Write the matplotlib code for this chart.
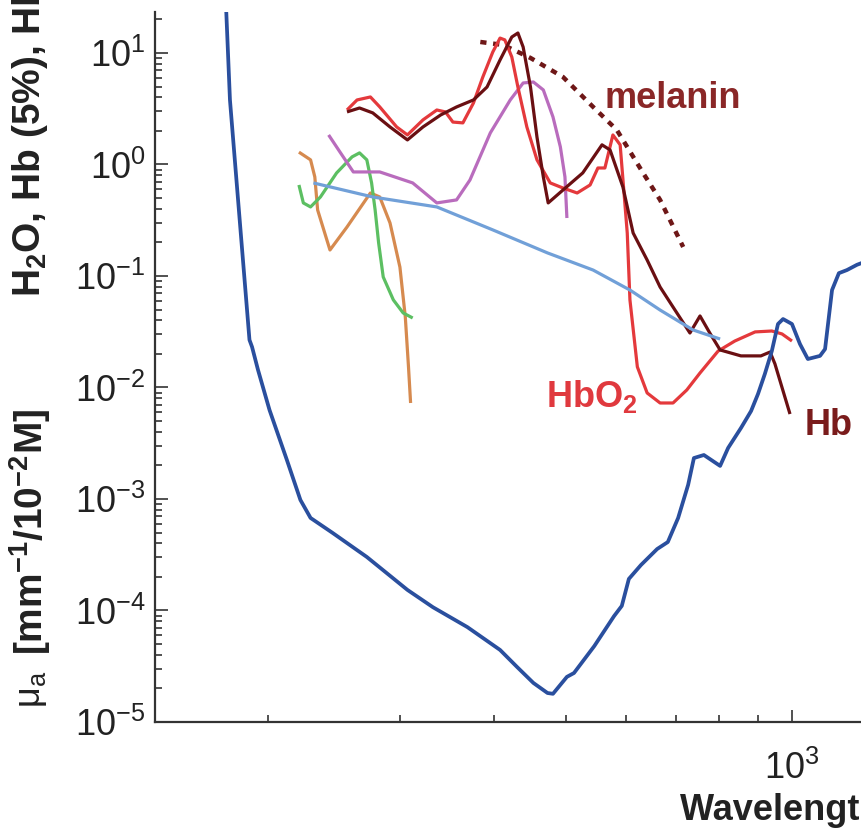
import matplotlib
matplotlib.use("Agg")
import matplotlib.pyplot as plt
from matplotlib.ticker import FixedLocator, NullFormatter

plt.rcParams['font.family'] = ['Liberation Sans', 'DejaVu Sans']
plt.rcParams['mathtext.fontset'] = 'custom'
plt.rcParams['mathtext.rm'] = 'Liberation Sans'
plt.rcParams['mathtext.default'] = 'regular'

# wavelength (nm) and absorption values
water_nm = [175, 176, 178, 184, 189, 190.5, 194, 201, 212, 221, 228, 244, 271, 307, 332,
            369, 408, 430, 452, 472, 480, 501, 512, 545, 579, 593, 606, 629, 661, 683,
            705, 727, 740, 763, 802, 822, 855, 882, 901, 920, 940, 958, 973, 1000, 1025,
            1050, 1090, 1107, 1131, 1155, 1184, 1221, 1240]
water_mua = [33, 23.3, 3.79, 0.243, 0.0267, 0.0231, 0.0144, 0.00628, 0.00224, 0.00098,
             0.000676, 0.000496, 0.000302, 0.000153, 0.000107, 7.1e-5, 4.43e-5, 3.11e-5,
             2.24e-5, 1.82e-5, 1.79e-5, 2.54e-5, 2.75e-5, 4.8e-5, 8.9e-5, 1.1e-4, 1.92e-4,
             2.56e-4, 3.56e-4, 4.11e-4, 6.76e-4, 1.34e-3, 2.33e-3, 2.48e-3, 1.98e-3,
             2.87e-3, 4.33e-3, 6.15e-3, 8.75e-3, 0.0132, 0.0212, 0.0371, 0.0411, 0.0371,
             0.0245, 0.018, 0.0192, 0.0221, 0.0748, 0.106, 0.113, 0.126, 0.131]

fat_nm = [230, 276, 336, 399, 472, 543, 608, 667, 738, 802]
fat_mua = [0.683, 0.511, 0.416, 0.259, 0.161, 0.113, 0.0748, 0.0495, 0.0328, 0.0272]

orange_nm = [220, 228, 231, 233, 242, 255, 274, 282, 291, 300, 305, 308, 310]
orange_mua = [1.29, 1.10, 0.773, 0.391, 0.171, 0.275, 0.555, 0.511, 0.299, 0.12,
              0.0428, 0.0153, 0.00726]

green_nm = [220, 223, 228, 235, 247, 259, 265, 271, 275, 278, 281, 285, 294, 303, 312]
green_mua = [0.655, 0.452, 0.416, 0.511, 0.84, 1.17, 1.27, 1.10, 0.683, 0.391, 0.198,
             0.098, 0.061, 0.0466, 0.042]

purple_nm = [241, 250, 260, 282, 312, 336, 357, 372, 396, 421, 438, 452, 466, 480, 491,
             498, 501]
purple_mua = [1.84, 1.27, 0.857, 0.857, 0.683, 0.452, 0.481, 0.726, 1.92, 3.79, 5.38,
              5.49, 4.66, 2.67, 1.44, 0.773, 0.331]

melanin_nm = [384, 412, 448, 495, 543, 584, 633, 667, 716]
melanin_mua = [12.55, 11.8, 9.02, 6.09, 3.28, 2.04, 0.84, 0.481, 0.182]

hbo2_nm = [255, 263, 274, 282, 297, 307, 322, 336, 345, 353, 364, 376, 387, 399, 408,
           414, 423, 431, 443, 457, 476, 495, 517, 538, 551, 563, 577, 590, 603, 608,
           622, 641, 667, 694, 724, 754, 797, 839, 893, 940, 970, 1000]
hbo2_mua = [3.08, 3.79, 4.03, 3.28, 2.17, 1.84, 2.51, 3.08, 2.96, 2.40, 2.36, 3.56, 6.09,
            10.2, 13.6, 13.1, 9.2, 4.95, 2.17, 1.10, 0.683, 0.615, 0.555, 0.655, 0.93,
            0.93, 1.84, 1.50, 0.243, 0.061, 0.0153, 0.00893, 0.00726, 0.00726, 0.0095,
            0.0135, 0.0212, 0.0261, 0.0315, 0.0321, 0.0302, 0.0261]

hb_nm = [255, 265, 276, 291, 307, 322, 340, 357, 376, 392, 408, 423, 431, 438, 448, 457,
         466, 473, 495, 526, 558, 572, 595, 614, 641, 667, 694, 731, 754, 777, 802, 855,
         909, 935, 949, 994]
hb_mua = [2.96, 3.21, 2.90, 2.17, 1.66, 2.17, 2.78, 3.28, 3.79, 4.95, 8.65, 13.9, 15.1,
          11.3, 4.95, 1.76, 0.773, 0.452, 0.59, 0.84, 1.50, 1.35, 0.628, 0.243, 0.139,
          0.0796, 0.0527, 0.0308, 0.0438, 0.0308, 0.0217, 0.0192, 0.0192, 0.0208, 0.0163,
          0.00578]

y_major = [1e-5, 1e-4, 1e-3, 1e-2, 1e-1, 1e0, 1e1]
y_minor = [m * d for d in y_major for m in range(2, 10) if m * d < 23]
x_minor = [200, 300, 400, 500, 600, 700, 800, 900]

fig = plt.figure(figsize=(8.62, 8.32), dpi=100)
ax = fig.add_axes([155 / 862, 110 / 832, 1 - 155 / 862, 710 / 832])

kw = dict(lw=2.3, solid_joinstyle='round', solid_capstyle='butt')
ax.plot(orange_nm, orange_mua, color='#d68a4f', **kw)
ax.plot(green_nm, green_mua, color='#5cbf62', **kw)
ax.plot(purple_nm, purple_mua, color='#b96cbd', **kw)
ax.plot(melanin_nm, melanin_mua, color='#6e1717', lw=3.2, linestyle=(0, (1.4, 1.5)))
ax.plot(hbo2_nm, hbo2_mua, color='#e4393c', **kw)
ax.plot(hb_nm, hb_mua, color='#6a0f12', **kw)
ax.plot(fat_nm, fat_mua, color='#71a0d8', **kw)
ax.plot(water_nm, water_mua, color='#2a4f9e', lw=2.7, solid_joinstyle='round')

ax.set_xscale('log')
ax.set_yscale('log')
ax.set_xlim(141.4, 1240)
ax.set_ylim(1e-5, 23.3)

ax.xaxis.set_major_locator(FixedLocator([1000]))
ax.xaxis.set_minor_locator(FixedLocator(x_minor))
ax.xaxis.set_minor_formatter(NullFormatter())
ax.yaxis.set_major_locator(FixedLocator(y_major))
ax.yaxis.set_minor_locator(FixedLocator(y_minor))
ax.yaxis.set_minor_formatter(NullFormatter())

ax.tick_params(which='both', direction='in', color='#333333', width=1.2)
ax.tick_params(which='major', length=9)
ax.tick_params(which='minor', length=5)
ax.tick_params(axis='y', which='major', labelsize=26, pad=7, labelcolor='#222222')
ax.tick_params(axis='x', which='major', labelsize=26, pad=21, labelcolor='#222222')

for side in ['top', 'right']:
    ax.spines[side].set_visible(False)
for side in ['left', 'bottom']:
    ax.spines[side].set_linewidth(1.6)
    ax.spines[side].set_color('#333333')

ax.text(563, 3.21, 'melanin', color='#8a2727', fontsize=26, fontweight='bold',
        va='baseline', ha='left')
ax.text(470, 0.00668, 'HbO$_2$', color='#e0393e', fontsize=26, fontweight='bold',
        va='baseline', ha='left')
ax.text(1041, 0.00375, 'Hb', color='#7a1c1c', fontsize=26, fontweight='bold',
        va='baseline', ha='left')

fig.text(32 / 862, 1 - 708 / 832, 'μ$_a$', rotation=90, fontsize=26,
         ha='center', va='bottom', color='#222222')
fig.text(30 / 862, 1 - 655 / 832, '[mm$^{-1}$/10$^{-2}$M]',
         rotation=90, fontsize=28, fontweight='bold', ha='center', va='bottom',
         color='#222222')
fig.text(30 / 862, 1 - 297 / 832, 'H$_2$O, Hb (5%), HbO$_2$ (5%)',
         rotation=90, fontsize=28, fontweight='bold', ha='center', va='bottom',
         color='#222222')
fig.text(680 / 862, 1 - 820 / 832, 'Wavelength (nm)', fontsize=26, fontweight='bold',
         ha='left', va='baseline', color='#222222')

fig.savefig('out.png', dpi=100)
